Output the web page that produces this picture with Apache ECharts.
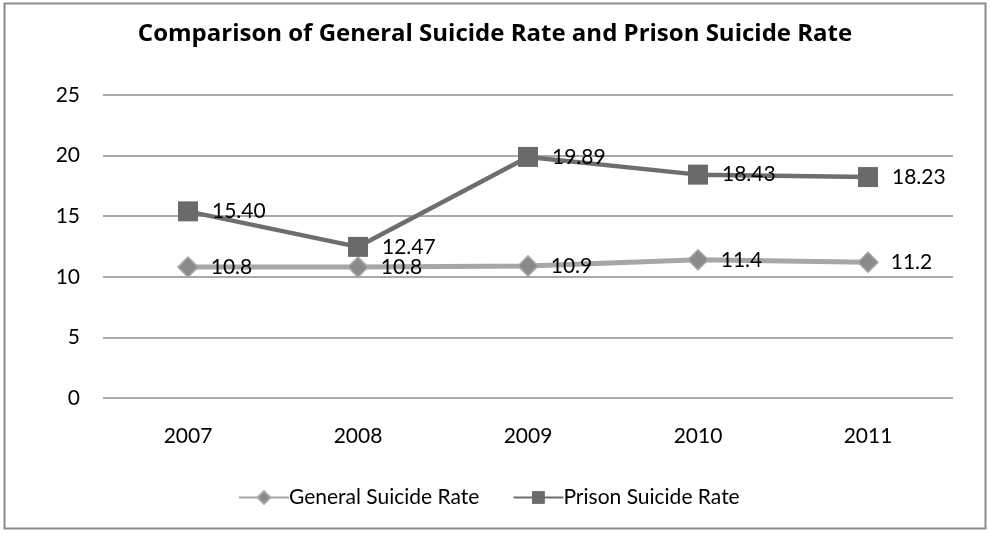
<!DOCTYPE html>
<html>
<head>
<meta charset="utf-8">
<script src="https://cdn.jsdelivr.net/npm/echarts@6/dist/echarts.min.js"></script>
<style>
html, body { margin: 0; padding: 0; background: #fff; }
#chart { width: 990px; height: 533px; }
</style>
</head>
<body>
<div id="chart"></div>
<script>
var years = ['2007', '2008', '2009', '2010', '2011'];
var generalRate = [10.8, 10.8, 10.9, 11.4, 11.2];
var prisonRate = [15.40, 12.47, 19.89, 18.43, 18.23];
var prisonLabels = ['15.40', '12.47', '19.89', '18.43', '18.23'];

var chart = echarts.init(document.getElementById('chart'));
var font = 'Lato, "Open Sans", sans-serif';

chart.setOption({
    animation: false,
    textStyle: { fontFamily: font },
    graphic: [{
        type: 'rect',
        shape: { x: 4.5, y: 3.5, width: 981, height: 525 },
        style: { fill: 'none', stroke: '#8c8c8c', lineWidth: 2 }
    }],
    title: {
        text: 'Comparison of General Suicide Rate and Prison Suicide Rate',
        left: 'center',
        top: 17,
        textStyle: { fontFamily: '"Open Sans", Lato, sans-serif', fontSize: 24, fontWeight: 'bold', color: '#000' }
    },
    legend: {
        bottom: 20,
        left: 233,
        itemWidth: 50,
        itemHeight: 16,
        itemGap: 33,
        textStyle: { fontFamily: font, fontSize: 21, color: '#000', padding: [0, 0, 0, -5] },
        data: ['General Suicide Rate', 'Prison Suicide Rate']
    },
    grid: { left: 103, right: 37, top: 95, bottom: 135 },
    xAxis: {
        type: 'category',
        data: years,
        boundaryGap: true,
        axisLine: { show: false },
        axisTick: { show: false },
        axisLabel: { fontSize: 21, color: '#000', margin: 28 }
    },
    yAxis: {
        type: 'value',
        min: 0,
        max: 25,
        interval: 5,
        axisLine: { show: false },
        axisTick: { show: false },
        axisLabel: { fontSize: 21, color: '#000', margin: 23 },
        splitLine: { lineStyle: { color: '#8c8c8c', width: 1.5 } }
    },
    series: [
        {
            name: 'General Suicide Rate',
            type: 'line',
            data: generalRate,
            symbol: 'diamond',
            symbolSize: 20,
            lineStyle: { color: '#a6a6a6', width: 5 },
            itemStyle: { color: '#8a8a8a', borderColor: '#a6a6a6', borderWidth: 1.5 },
            label: {
                show: true,
                position: 'right',
                distance: 12,
                fontFamily: font,
                fontSize: 21,
                color: '#000',
                formatter: function (p) { return p.value.toFixed(1); }
            }
        },
        {
            name: 'Prison Suicide Rate',
            type: 'line',
            data: prisonRate,
            symbol: 'rect',
            symbolSize: 20,
            lineStyle: { color: '#6e6e6e', width: 4.5 },
            itemStyle: { color: '#6a6a6a', borderColor: '#6a6a6a', borderWidth: 0 },
            label: {
                show: true,
                position: 'right',
                distance: 14,
                fontFamily: font,
                fontSize: 21,
                color: '#000',
                formatter: function (p) { return prisonLabels[p.dataIndex]; }
            }
        }
    ]
});
</script>
</body>
</html>
